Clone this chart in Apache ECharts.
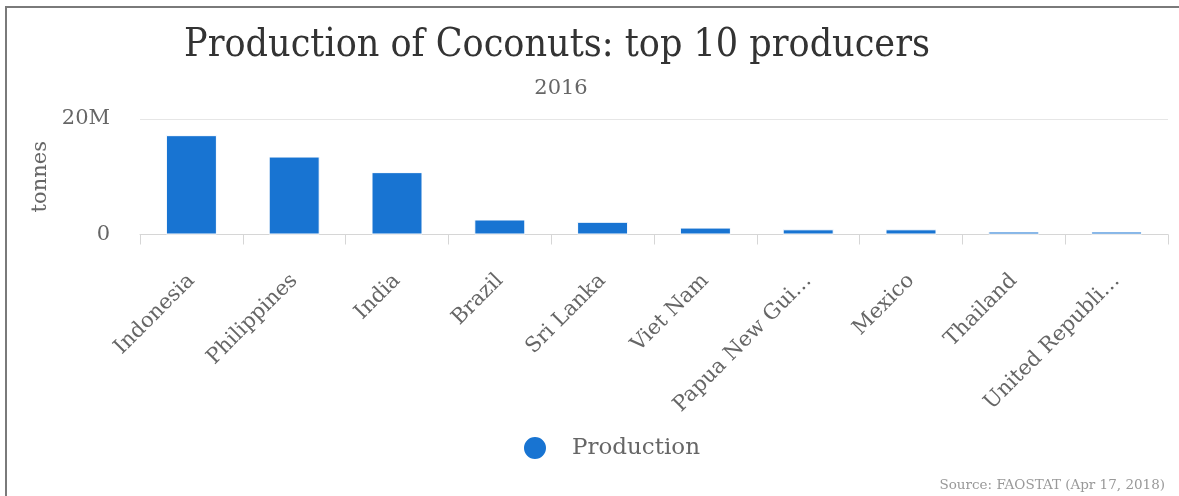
<!DOCTYPE html>
<html>
<head>
<meta charset="utf-8">
<script src="https://cdn.jsdelivr.net/npm/echarts@6/dist/echarts.min.js"></script>
<style>
    html, body {margin: 0; padding: 0; background: #fff;}
    #chart {width: 1179px; height: 496px;}
</style>
</head>
<body>
<div id="chart"></div>
<script>
// data (tonnes, 2016)
const countries = ['Indonesia', 'Philippines', 'India', 'Brazil', 'Sri Lanka', 'Viet Nam',
    'Papua New Guinea', 'Mexico', 'Thailand', 'United Republic of Tanzania'];
const production = [17200000, 13500000, 10800000, 2600000, 2200000, 1200000,
    900000, 900000, 520000, 520000];
const yTicks = [0, 20000000];
const yTickLabels = ['0', '20M'];

const serif = 'DejaVu Serif';

let option = {
    animation: false,
    backgroundColor: '#fff',
    title: [
        {
            text: 'Production of Coconuts: top 10 producers',
            left: 552,
            top: 21,
            textAlign: 'center',
            textStyle: {
                fontFamily: '"DejaVu Serif Condensed", "DejaVu Serif", serif',
                fontWeight: 'normal',
                fontSize: 39,
                color: '#333'
            }
        },
        {
            text: '2016',
            left: 556,
            top: 73,
            textAlign: 'center',
            textStyle: {fontFamily: serif, fontWeight: 'normal', fontSize: 21, color: '#666'}
        },
        {
            text: 'Source: FAOSTAT (Apr 17, 2018)',
            right: 14,
            top: 478,
            padding: 0,
            textStyle: {fontFamily: serif, fontWeight: 'normal', fontSize: 13.5, color: '#999'}
        }
    ],
    legend: {
        data: ['Production'],
        left: 517,
        top: 430,
        icon: 'circle',
        itemWidth: 24,
        itemHeight: 24,
        textStyle: {fontFamily: serif, fontSize: 23, color: '#666', padding: [0, 0, 0, 20]}
    },
    grid: {
        left: 140,
        right: 11,
        top: 119,
        bottom: 261.5,
        containLabel: false
    },
    xAxis: {
        type: 'category',
        data: countries,
        axisLine: {lineStyle: {color: '#d6d6d6', width: 1}},
        axisTick: {show: true, length: 10, lineStyle: {color: '#d6d6d6'}},
        axisLabel: {
            rotate: 45,
            margin: 43,
            interval: 0,
            fontFamily: serif,
            fontSize: 21,
            color: '#666',
            width: 190,
            overflow: 'truncate',
            ellipsis: '…'
        }
    },
    yAxis: {
        type: 'value',
        min: yTicks[0],
        max: yTicks[yTicks.length - 1],
        interval: yTicks[1] - yTicks[0],
        name: 'tonnes',
        nameLocation: 'middle',
        nameGap: 83,
        nameTextStyle: {fontFamily: serif, fontSize: 21, color: '#666'},
        axisLine: {show: false},
        axisTick: {show: false},
        splitLine: {lineStyle: {color: '#e6e6e6', width: 1}},
        axisLabel: {
            margin: 30,
            fontFamily: serif,
            fontSize: 21,
            color: '#666',
            formatter: (v) => yTickLabels[yTicks.indexOf(v)]
        }
    },
    series: [
        {
            name: 'Production',
            type: 'bar',
            data: production,
            barWidth: 51,
            itemStyle: {color: '#1874d2', borderColor: '#fff', borderWidth: 1}
        }
    ],
    graphic: [
        // outer frame: top and left edges only
        {type: 'rect', shape: {x: 5, y: 6, width: 1174, height: 2}, style: {fill: '#7a7a7a'}, silent: true},
        {type: 'rect', shape: {x: 5, y: 6, width: 2, height: 490}, style: {fill: '#7a7a7a'}, silent: true}
    ]
};

let chart = echarts.init(document.getElementById('chart'), null, {renderer: 'canvas'});
chart.setOption(option);
</script>
</body>
</html>
